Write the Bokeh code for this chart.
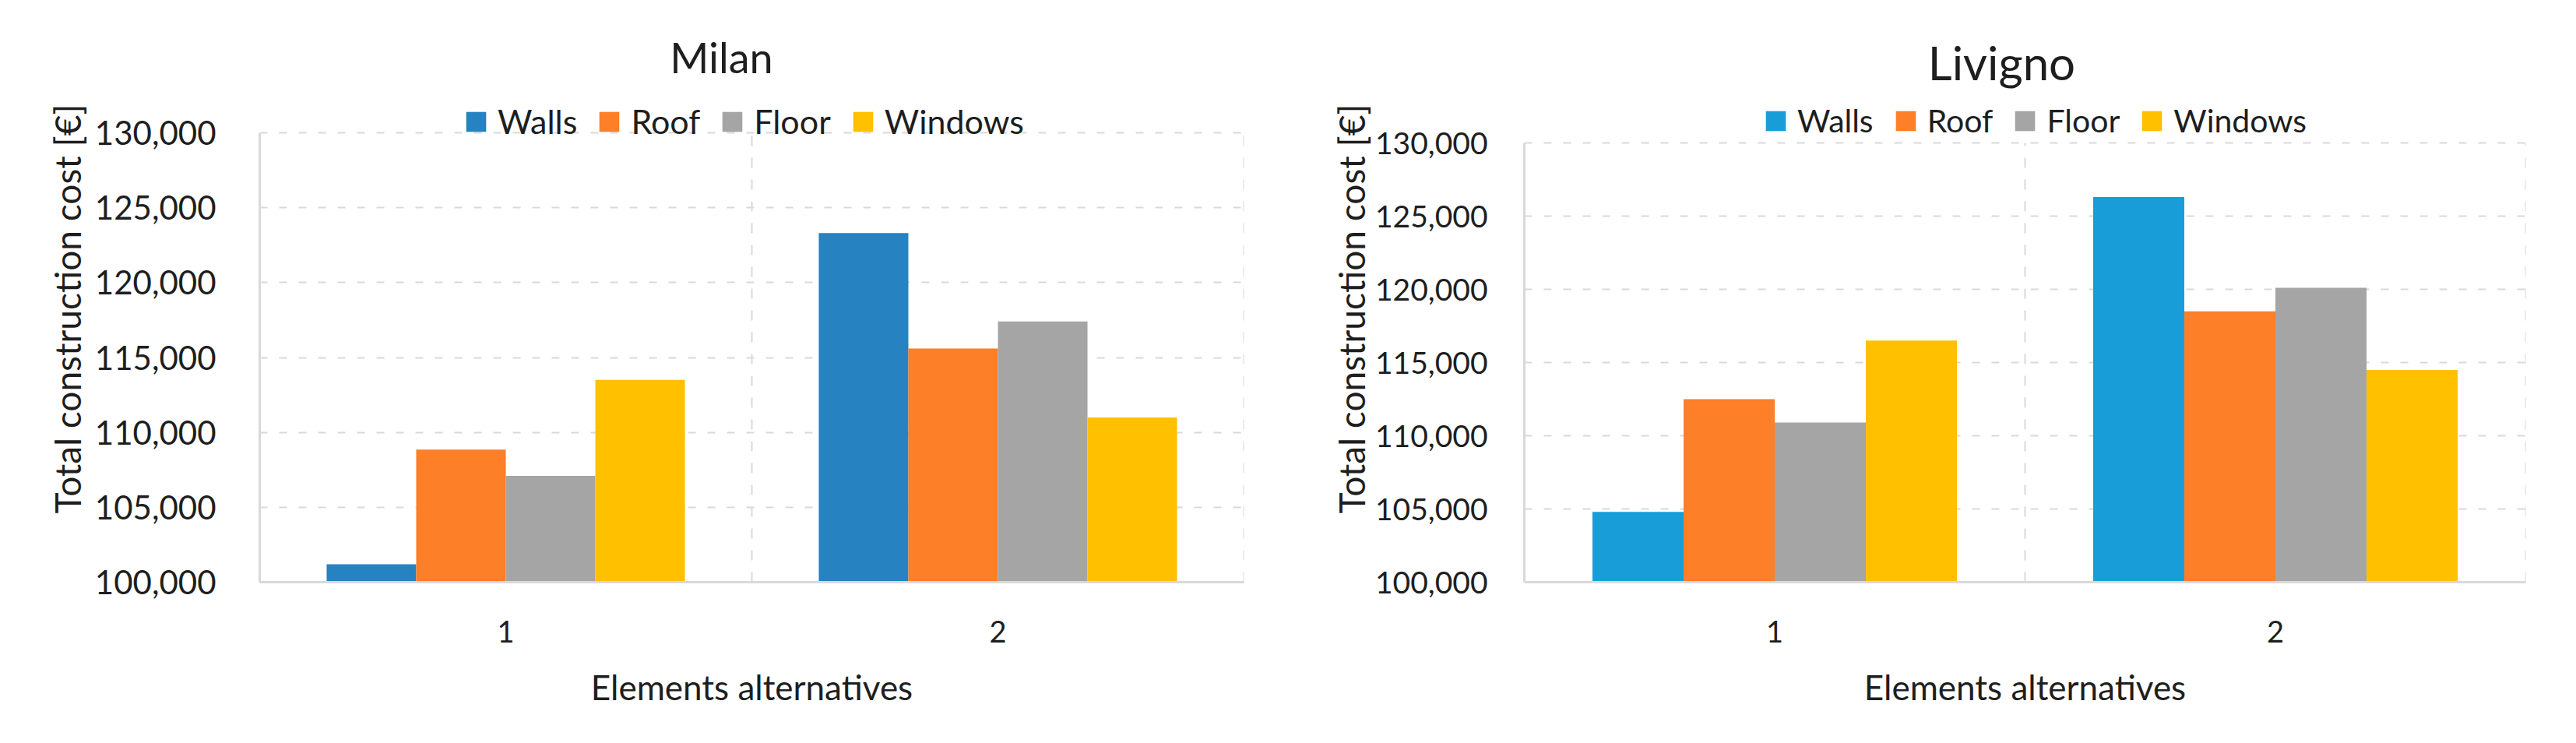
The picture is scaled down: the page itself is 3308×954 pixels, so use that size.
from bokeh.plotting import figure
from bokeh.layouts import row
from bokeh.models import (ColumnDataSource, FixedTicker, NumeralTickFormatter, Range1d,
                          Legend, LegendItem, Label)
from bokeh.transform import dodge
from bokeh.embed import file_html
from bokeh.resources import INLINE

# ---- data ----
alternatives = [1, 2]
alt_labels = ["1", "2"]
series = ["Walls", "Roof", "Floor", "Windows"]

milan_walls = [101200, 123300]
milan_roof = [108850, 115600]
milan_floor = [107100, 117400]
milan_windows = [113500, 111000]

livigno_walls = [104800, 126300]
livigno_roof = [112500, 118500]
livigno_floor = [110900, 120100]
livigno_windows = [116500, 114500]

y_ticks = [100000, 105000, 110000, 115000, 120000, 125000, 130000]

FONT = "Lato"
TXT = "#1e1e1e"
GRID = "#d9d9d9"
FIG_H = 938
TOP = 45      # canvas px above the (extended) frame
BOTTOM = 191  # canvas px below the frame (frames are aligned across the row)


def make_chart(title, values, colors, g):
    src = ColumnDataSource(dict(alt=alternatives, Walls=values[0], Roof=values[1],
                                Floor=values[2], Windows=values[3]))
    # frame is extended upward so the title and legend live inside it
    span = y_ticks[-1] - y_ticks[0]
    y_end = y_ticks[-1] + span * g["head"] / g["data_h"]
    p = figure(width=g["w"], height=FIG_H, output_backend="svg", toolbar_location=None,
               x_range=Range1d(alternatives[0] - 0.5, alternatives[-1] + 0.5),
               y_range=Range1d(y_ticks[0], y_end),
               min_border_left=g["bl"], min_border_right=g["br"],
               min_border_top=TOP, min_border_bottom=BOTTOM)
    p.outline_line_color = None
    p.background_fill_color = "white"
    p.border_fill_color = "white"

    # grids
    p.ygrid.ticker = FixedTicker(ticks=y_ticks)
    p.ygrid.grid_line_color = GRID
    p.ygrid.grid_line_width = 2
    p.ygrid.grid_line_dash = "10 15"
    p.xgrid.visible = False
    bounds = [a + 0.5 for a in alternatives]
    p.segment(x0=bounds, x1=bounds, y0=y_ticks[0], y1=y_ticks[-1],
              line_color=GRID, line_width=2, line_dash="13 15")

    bw = 0.182
    offs = [-1.5 * bw, -0.5 * bw, 0.5 * bw, 1.5 * bw]
    items = []
    for name, off, col in zip(series, offs, colors):
        r = p.vbar(x=dodge("alt", off, range=p.x_range), top=name, bottom=y_ticks[0],
                   width=bw, source=src, fill_color=col, line_color=None)
        items.append(LegendItem(label=name, renderers=[r]))

    leg = Legend(items=items, orientation="horizontal", location=g["leg"],
                 padding=0, margin=0, spacing=25, label_standoff=12,
                 glyph_width=32, glyph_height=32,
                 label_text_font=FONT, label_text_font_size=g["legfs"],
                 label_text_color=TXT, border_line_color=None,
                 background_fill_alpha=0)
    p.add_layout(leg, "center")
    p.add_layout(Label(x=g["tx"], y=g["ty"], x_units="screen", y_units="screen",
                       text=title, text_align="center", text_baseline="alphabetic",
                       text_font=FONT, text_font_size=g["tfs"], text_color=TXT))

    # axes
    p.xaxis.ticker = FixedTicker(ticks=alternatives)
    p.xaxis.major_label_overrides = {a: l for a, l in zip(alternatives, alt_labels)}
    p.yaxis.ticker = FixedTicker(ticks=y_ticks)
    p.yaxis.bounds = (y_ticks[0], y_ticks[-1])
    p.yaxis.formatter = NumeralTickFormatter(format="0,0")
    for ax in (p.xaxis[0], p.yaxis[0]):
        ax.axis_line_color = GRID
        ax.axis_line_width = 3
        ax.major_tick_line_color = None
        ax.minor_tick_line_color = None
        ax.major_label_text_font = FONT
        ax.major_label_text_color = TXT
        ax.axis_label_text_font = FONT
        ax.axis_label_text_font_style = "normal"
        ax.axis_label_text_color = TXT
        ax.axis_label_text_font_size = "46px"
    p.yaxis.major_label_text_font_size = g["yfs"]
    p.yaxis.major_label_standoff = g["ystand"]
    p.yaxis.axis_label = "Total construction cost [€]"
    p.yaxis.axis_label_standoff = g["ylabstand"]
    p.xaxis.major_label_text_font_size = "38px"
    p.xaxis.major_label_standoff = 43
    p.xaxis.axis_label = "Elements alternatives"
    p.xaxis.axis_label_text_font_size = "44px"
    p.xaxis.axis_label_standoff = 28
    return p


# left: data area y 170..747, x 333..1597
p1 = make_chart("Milan",
                [milan_walls, milan_roof, milan_floor, milan_windows],
                ["#2682c0", "#fd7f27", "#a5a5a5", "#ffc000"],
                dict(w=1646, bl=333, br=49, data_h=577, head=170 - TOP,
                     leg=(262, 566), legfs="43px", yfs="42px", ystand=50, ylabstand=5,
                     tx=593, ty=674, tfs="54px"))
# right: data area y 183..747, x 1957..3243
p2 = make_chart("Livigno",
                [livigno_walls, livigno_roof, livigno_floor, livigno_windows],
                ["#199dd8", "#fd7f27", "#a5a5a5", "#ffc000"],
                dict(w=1646, bl=311, br=49, data_h=564, head=183 - TOP,
                     leg=(307, 568), legfs="41px", yfs="39px", ystand=41, ylabstand=0,
                     tx=613, ty=668, tfs="60px"))

layout = row(p1, p2)
open("out.html", "w").write(file_html(layout, INLINE))
